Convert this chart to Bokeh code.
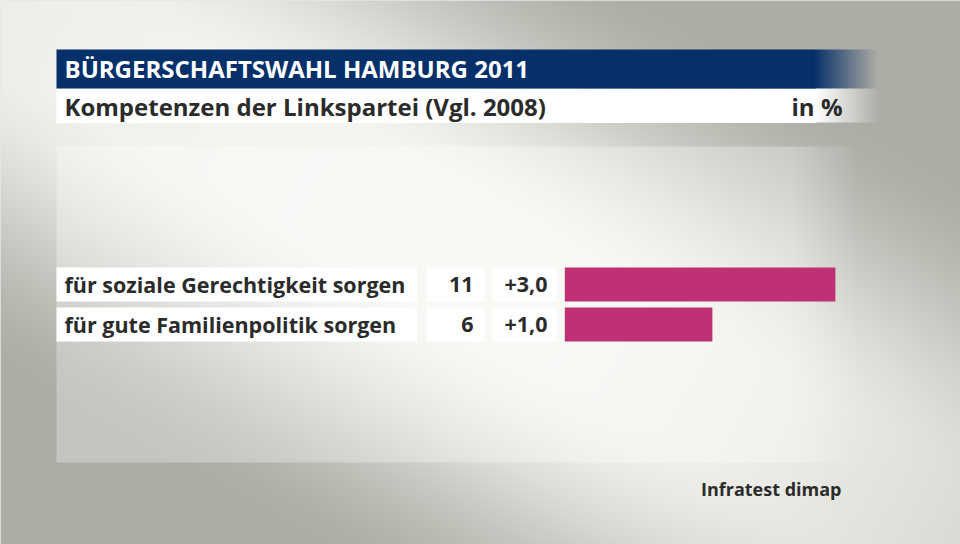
import numpy as np
from bokeh.plotting import figure
from bokeh.models import Range1d, ColumnDataSource
from bokeh.core.properties import value
from bokeh.embed import file_html
from bokeh.resources import INLINE

# ---------------- data ----------------
title = "BÜRGERSCHAFTSWAHL HAMBURG 2011"
subtitle = "Kompetenzen der Linkspartei (Vgl. 2008)"
unit_label = "in %"
source_note = "Infratest dimap"
categories = ["für soziale Gerechtigkeit sorgen", "für gute Familienpolitik sorgen"]
values = [11, 6]
changes = ["+3,0", "+1,0"]

# ---------------- layout constants ----------------
W, H = 960, 544
FONT = "Open Sans"
DARK = "#2b2b2b"
BLUE = (6, 48, 106)
BAR = "#bf3075"


def Y(px):
    return H - px


p = figure(width=W, height=H,
           x_range=Range1d(0, W), y_range=Range1d(0, H),
           output_backend="svg", toolbar_location=None, min_border=0,
           x_axis_location=None, y_axis_location=None)
p.xgrid.visible = False
p.ygrid.visible = False
p.outline_line_color = None
p.background_fill_color = "#d0d0ca"
p.border_fill_color = "#d0d0ca"

# value scale: 0 at px 564.3, 24.6 px per unit
ppu = 24.6
x0 = 564.3
p.extra_x_ranges = {"val": Range1d((0 - x0) / ppu, (W - x0) / ppu)}
# row scale: row i centre at px 284 + 40 i from top
p.extra_y_ranges = {"rows": Range1d((H - 284) / 40.0, (0 - 284) / 40.0)}

# ---------------- background image ----------------
xs = np.arange(W) + 0.5
ys = np.arange(H) + 0.5
XX, YY = np.meshgrid(xs, ys)
dx, dy = 960 / np.hypot(960, 544), 544 / np.hypot(960, 544)
perp = np.abs(XX * dy - YY * dx) / 473.0
e0, e1 = 0.1, 0.7
t = np.clip((perp - e0) / (e1 - e0), 0, 1)
s_perp = t * t * (3 - 2 * t)
u = ((XX - 480) * dx + (YY - 272) * dy) / 551.0
k = np.where(u > 0, 0.38, 0.12)
s = 1 - (1 - s_perp) * (1 - np.clip(k * u * u, 0, 1))
L = np.array([246, 247, 242], float)
G = np.array([173, 172, 165], float)
img = L[None, None, :] * (1 - s[..., None]) + G[None, None, :] * s[..., None]

# light panel
panel = (YY >= 146) & (YY <= 462) & (XX >= 56)
pa = 0.3 * np.clip((860 - XX) / 70.0, 0, 1)
pa = np.where(panel, pa, 0)
img = img * (1 - pa[..., None]) + 255 * pa[..., None]

# title bar fade
tb = (YY >= 49) & (YY < 88) & (XX >= 813)
ta = np.where(tb, np.clip((877 - XX) / 64.0, 0, 1), 0)
img = img * (1 - ta[..., None]) + np.array(BLUE, float)[None, None, :] * ta[..., None]
# subtitle bar fade
sb = (YY >= 88.5) & (YY < 122.5) & (XX >= 815)
sa = np.where(sb, np.clip((880 - XX) / 65.0, 0, 1), 0)
img = img * (1 - sa[..., None]) + 255 * sa[..., None]

rgba = np.zeros((H, W, 4), dtype=np.uint8)
rgba[..., :3] = np.clip(img, 0, 255).astype(np.uint8)
rgba[..., 3] = 255
rgba = np.ascontiguousarray(rgba[::-1])
p.image_rgba(image=[rgba.view(np.uint32).reshape(H, W)], x=0, y=0, dw=W, dh=H)

# ---------------- header ----------------
p.quad(left=56, right=813.5, top=Y(49), bottom=Y(88), fill_color="#06306a", line_color=None)
p.quad(left=56, right=815.5, top=Y(88.5), bottom=Y(122.5), fill_color="white", line_color=None)
p.text(x=[64], y=[Y(68)], text=[title], text_font=value(FONT), text_font_style="bold",
       text_font_size="24px", text_color="white", text_baseline="middle", text_align="left")
p.text(x=[64], y=[Y(106)], text=[subtitle], text_font=value(FONT), text_font_style="bold",
       text_font_size="24px", text_color=DARK, text_baseline="middle", text_align="left")
p.text(x=[842], y=[Y(106)], text=[unit_label], text_font=value(FONT), text_font_style="bold",
       text_font_size="24px", text_color=DARK, text_baseline="middle", text_align="right")

# ---------------- rows ----------------
rows = list(range(len(categories)))
src = ColumnDataSource(dict(row=rows, cat=categories, val=values,
                            vtxt=[str(v) for v in values], chg=changes))
hh = 34 / 40.0
p.hbar(y="row", left=56, right=416.5, height=hh, source=src, y_range_name="rows",
       fill_color="white", line_color=None)
p.hbar(y="row", left=426, right=484, height=hh, source=src, y_range_name="rows",
       fill_color="white", line_color=None)
p.hbar(y="row", left=492, right=556, height=hh, source=src, y_range_name="rows",
       fill_color="white", line_color=None)
p.hbar(y="row", left=0, right="val", height=hh, source=src, x_range_name="val",
       y_range_name="rows", fill_color=BAR, line_color=None)

p.text(x=64, y="row", text="cat", source=src, y_range_name="rows", text_font=value(FONT),
       text_font_style="bold", text_font_size="21.5px", text_color=DARK,
       text_baseline="middle", text_align="left")
p.text(x=473, y="row", text="vtxt", source=src, y_range_name="rows", text_font=value(FONT),
       text_font_style="bold", text_font_size="21.5px", text_color=DARK,
       text_baseline="middle", text_align="right")
p.text(x=547, y="row", text="chg", source=src, y_range_name="rows", text_font=value(FONT),
       text_font_style="bold", text_font_size="21.5px", text_color=DARK,
       text_baseline="middle", text_align="right")

# ---------------- footer ----------------
p.text(x=[841], y=[Y(488)], text=[source_note], text_font=value(FONT), text_font_style="bold",
       text_font_size="18px", text_color=DARK, text_baseline="middle", text_align="right")

open("out.html", "w").write(file_html(p, INLINE))
